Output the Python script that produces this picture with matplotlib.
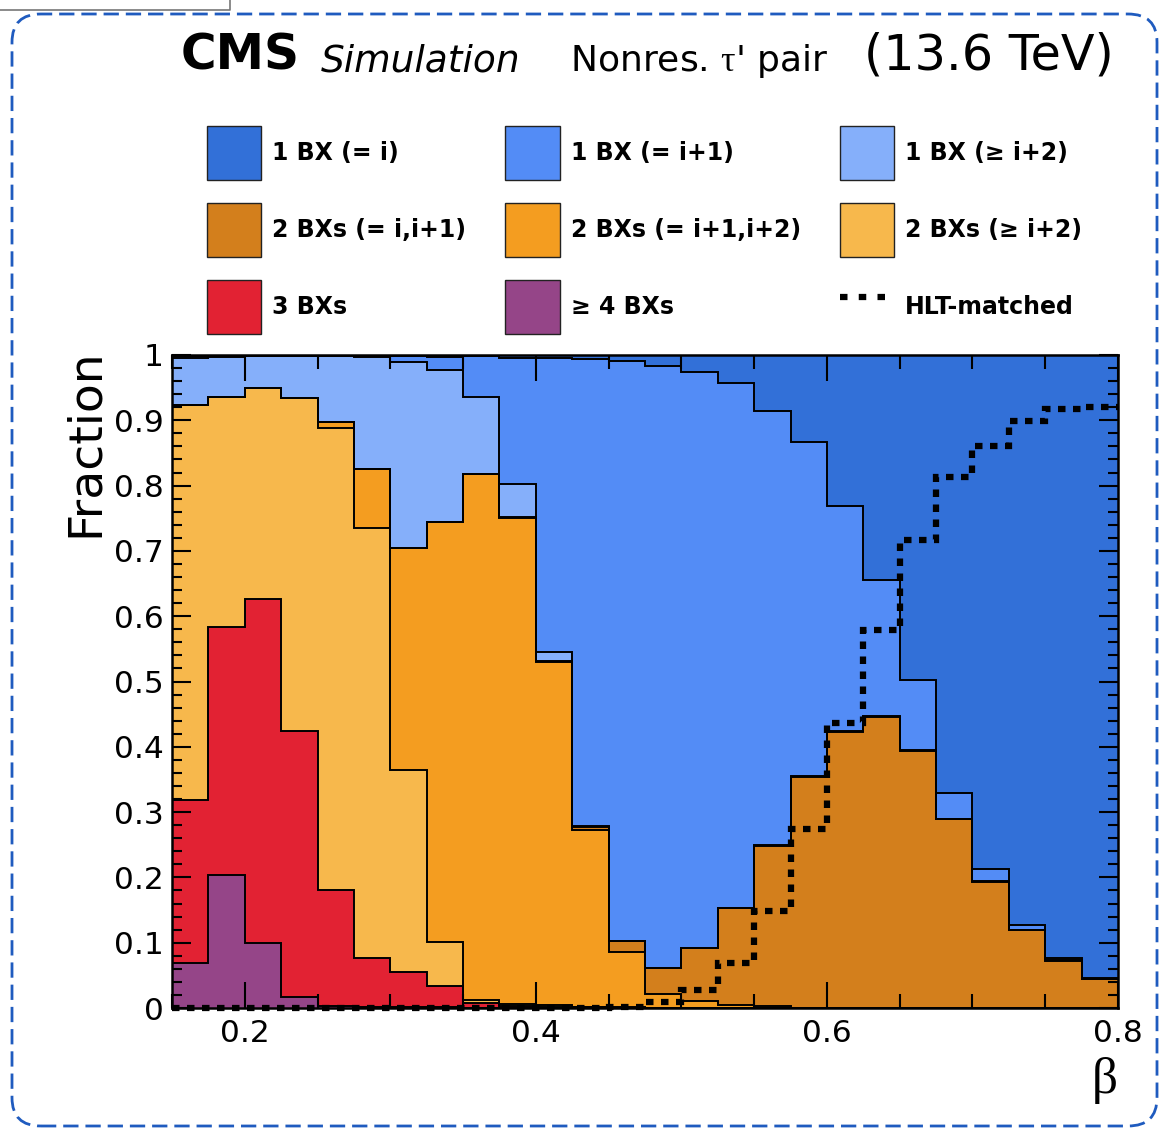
import numpy as np
import matplotlib
matplotlib.use("Agg")
import matplotlib.pyplot as plt
from matplotlib.patches import Patch, FancyBboxPatch
from matplotlib.lines import Line2D
from matplotlib.ticker import MultipleLocator, FuncFormatter

plt.rcParams['font.family'] = ['DejaVu Sans']
plt.rcParams['mathtext.fontset'] = 'custom'
plt.rcParams['mathtext.rm'] = 'Liberation Serif'

# --------------------- Data ----------------------
# beta bins: 26 bins of 0.025 from 0.15 to 0.8
beta_lo, beta_hi, n_bins = 0.15, 0.80, 26

# fractions per bin, stack order bottom -> top
frac_4bx = [0.069, 0.204, 0.099, 0.017, 0.003, 0.002, 0.001, 0.001, 0, 0, 0, 0, 0,
            0, 0, 0, 0, 0, 0, 0, 0, 0, 0, 0, 0, 0]
frac_3bx = [0.249, 0.380, 0.527, 0.407, 0.178, 0.075, 0.054, 0.033, 0.008, 0.003, 0.002, 0.001, 0,
            0, 0, 0, 0, 0, 0, 0, 0, 0, 0, 0, 0, 0]
frac_2bx_ge2 = [0.605, 0.352, 0.323, 0.510, 0.707, 0.658, 0.309, 0.067, 0.004, 0.003, 0.002, 0.001, 0.001,
                0, 0, 0, 0, 0, 0, 0, 0, 0, 0, 0, 0, 0]
frac_2bx_12 = [0, 0, 0, 0, 0.009, 0.090, 0.340, 0.643, 0.805, 0.745, 0.526, 0.270, 0.085,
               0.021, 0.010, 0.005, 0.003, 0, 0, 0, 0, 0, 0, 0, 0, 0]
frac_2bx_01 = [0, 0, 0, 0, 0.001, 0.001, 0.001, 0.001, 0.001, 0.001, 0.001, 0.005, 0.017,
               0.040, 0.082, 0.148, 0.245, 0.354, 0.423, 0.446, 0.394, 0.289, 0.193, 0.119, 0.072, 0.044]
frac_1bx_ge2 = [0.073, 0.061, 0.049, 0.064, 0.100, 0.171, 0.284, 0.232, 0.117, 0.050, 0.014, 0.001, 0,
                0, 0, 0, 0.001, 0.001, 0.001, 0.001, 0.001, 0.001, 0.001, 0.001, 0.001, 0.001]
frac_1bx_1 = [0.002, 0.001, 0.001, 0.001, 0.001, 0.002, 0.009, 0.020, 0.063, 0.194, 0.451, 0.716, 0.888,
              0.922, 0.882, 0.804, 0.665, 0.512, 0.345, 0.208, 0.107, 0.040, 0.019, 0.007, 0.003, 0.001]
frac_1bx_0 = [0.002, 0.002, 0.001, 0.001, 0.001, 0.001, 0.002, 0.003, 0.002, 0.004, 0.004, 0.006, 0.009,
              0.017, 0.026, 0.043, 0.086, 0.133, 0.231, 0.345, 0.498, 0.670, 0.787, 0.873, 0.924, 0.955]

hlt_matched = [0, 0, 0, 0, 0, 0, 0, 0, 0, 0, 0, 0, 0.002,
               0.009, 0.028, 0.069, 0.148, 0.274, 0.436, 0.579, 0.717, 0.813, 0.861, 0.899, 0.917, 0.920]

labels = ["≥ 4 BXs", "3 BXs", "2 BXs (≥ i+2)", "2 BXs (= i+1,i+2)", "2 BXs (= i,i+1)",
          "1 BX (≥ i+2)", "1 BX (= i+1)", "1 BX (= i)"]
colors = ["#954588", "#E22233", "#F7B84C", "#F49D20", "#D37F1C",
          "#85AFFA", "#538CF6", "#3270D8"]

# --------------------- Plotting ------------------------
edges = np.linspace(beta_lo, beta_hi, n_bins + 1)
stack = np.array([frac_4bx, frac_3bx, frac_2bx_ge2, frac_2bx_12, frac_2bx_01,
                  frac_1bx_ge2, frac_1bx_1, frac_1bx_0])
cum = np.cumsum(stack, axis=0)

W, H = 1160, 1128
fig = plt.figure(figsize=(W / 100, H / 100), dpi=100)
ax = fig.add_axes([172 / W, (H - 1008) / H, 946 / W, 653 / H])

# ROOT-style stack: draw the largest cumulative first
for i in reversed(range(len(stack))):
    ax.stairs(cum[i], edges, baseline=0, fill=True, color=colors[i], lw=0, zorder=1)
for i in range(len(stack)):
    ax.stairs(cum[i], edges, baseline=None, color="black", lw=1.4, zorder=2)

ax.stairs(hlt_matched, edges, baseline=None, color="black", lw=4.5,
          linestyle=(0, (1.2, 1.2)), zorder=3, clip_on=False)

ax.set_xlim(beta_lo, beta_hi)
ax.set_ylim(0, 1)
ax.set_xticks([0.2, 0.4, 0.6, 0.8])
ax.xaxis.set_minor_locator(MultipleLocator(0.05))
ax.yaxis.set_major_locator(MultipleLocator(0.1))
ax.yaxis.set_minor_locator(MultipleLocator(0.02))
fmt = FuncFormatter(lambda v, p: f"{v:g}")
ax.xaxis.set_major_formatter(fmt)
ax.yaxis.set_major_formatter(fmt)

ax.tick_params(which="both", direction="in", top=True, right=True, width=1.5, labelsize=22.5)
ax.tick_params(axis="x", which="major", length=19, pad=8)
ax.tick_params(axis="x", which="minor", length=10)
ax.tick_params(axis="y", which="major", length=14, pad=6)
ax.tick_params(axis="y", which="minor", length=7)
for s in ax.spines.values():
    s.set_linewidth(1.8)
    s.set_zorder(5)

ax.set_ylabel("Fraction", fontsize=34, loc="top")
ax.yaxis.set_label_coords(-0.068, 1.01)
ax.set_xlabel("β", fontsize=37, loc="right", family=["Liberation Serif", "DejaVu Serif"])
ax.xaxis.set_label_coords(1.0, -0.075)

# header
fig.text(181 / W, 1 - 70 / H, "CMS", fontsize=35, weight="bold", va="baseline")
fig.text(321 / W, 1 - 71 / H, "Simulation", fontsize=27, style="italic", va="baseline")
fig.text(570 / W, 1 - 71 / H, r"Nonres. $\mathrm{\tau}$' pair", fontsize=26, va="baseline")
fig.text(864 / W, 1 - 70 / H, "(13.6 TeV)", fontsize=35.5, va="baseline")

# legend, ROOT fills rows; matplotlib fills columns -> reorder
patches = [Patch(facecolor=c, edgecolor="#222222", lw=1.0) for c in colors]
hlt_handle = Line2D([], [], color="black", lw=4.5, linestyle=(0, (1.2, 1.8)))
order = [7, 4, 1, 6, 3, 0, 5, 2]
handles = [patches[k] for k in order[:6]] + [patches[5], patches[2], hlt_handle]
leg_labels = [labels[k] for k in order[:6]] + [labels[5], labels[2], "HLT-matched"]
fig.legend(handles, leg_labels, ncol=3, loc="upper left",
           bbox_to_anchor=(207 / W, 1 - 126 / H), frameon=False,
           prop={"size": 17, "weight": "bold"},
           handlelength=2.3, handleheight=3.15, handletextpad=0.47,
           columnspacing=1.65, labelspacing=0.97, borderpad=0, borderaxespad=0)

# dashed rounded frame of the screenshot
frame = FancyBboxPatch((12 / W, 2 / H), 1157 / W - 12 / W, 1114 / H - 2 / H,
                       boxstyle="round,pad=0,rounding_size=0.025",
                       transform=fig.transFigure, fill=False, edgecolor="#1F5BBF",
                       lw=2.0, linestyle=(0, (5.5, 2.5)), clip_on=False)
fig.add_artist(frame)
fig.add_artist(Line2D([0, 230 / W, 230 / W], [1 - 10 / H, 1 - 10 / H, 1.0],
                      transform=fig.transFigure, color="#777777", lw=1.2))

fig.savefig("out.png", dpi=100)
